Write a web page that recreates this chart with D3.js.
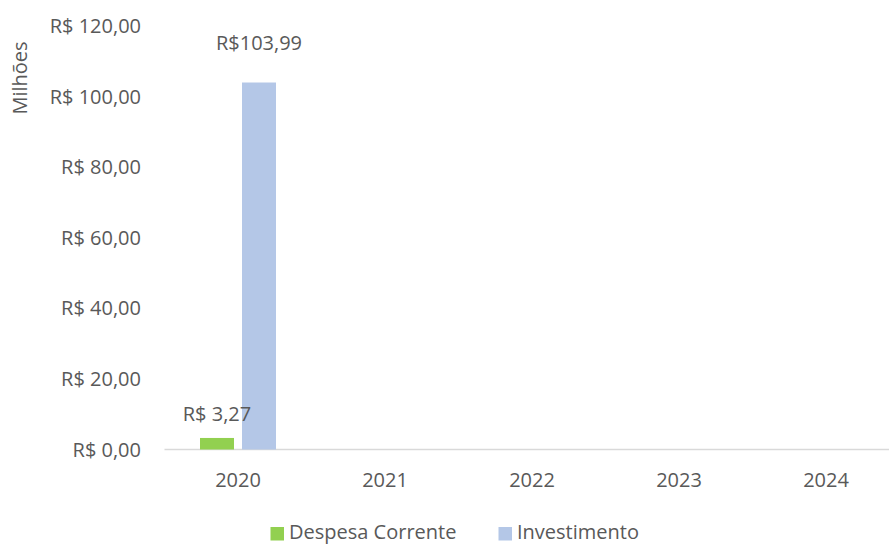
<!DOCTYPE html>
<html>
<head>
<meta charset="utf-8">
<script src="https://cdn.jsdelivr.net/npm/d3@7"></script>
<style>
  body { margin: 0; background: #fff; }
  svg { display: block; }
  text { font-family: "Open Sans", Lato, sans-serif; fill: #595959; }
</style>
</head>
<body>
<svg id="chart" width="889" height="544"></svg>
<script>
// Anos e séries (valores em milhões de R$)
const years = ["2020", "2021", "2022", "2023", "2024"];
const despesaCorrente = [3.27, 0, 0, 0, 0];
const investimento = [103.99, 0, 0, 0, 0];
const yTicks = [0, 20, 40, 60, 80, 100, 120];
const seriesNames = ["Despesa Corrente", "Investimento"];
const seriesColors = ["#92D050", "#B4C7E7"];

const fmtTick = v => "R$ " + v.toFixed(2).replace(".", ",");
const fmtLabel = [v => "R$ " + v.toFixed(2).replace(".", ","), v => "R$" + v.toFixed(2).replace(".", ",")];

const svg = d3.select("#chart");
const x = d3.scaleBand().domain(years).range([164.5, 899.5]);
const y = d3.scaleLinear().domain([0, 120]).range([449.5, 26]);

const barW = 34, gap = 8;
const fs = "20px";

// Eixo Y: apenas rótulos
svg.append("g").selectAll("text").data(yTicks).join("text")
  .attr("x", 141).attr("y", d => y(d)).attr("dy", "0.35em")
  .attr("text-anchor", "end").style("font-size", fs)
  .text(fmtTick);

svg.append("text")
  .attr("transform", "translate(20,78) rotate(-90)")
  .attr("text-anchor", "middle").attr("dy", "0.35em").style("font-size", fs)
  .text("Milhões");

// Linha base
svg.append("line")
  .attr("x1", 164.5).attr("x2", 899.5)
  .attr("y1", y(0)).attr("y2", y(0))
  .attr("stroke", "#D9D9D9").attr("stroke-width", 1.5);

// Rótulos do eixo X
svg.append("g").selectAll("text").data(years).join("text")
  .attr("x", d => x(d) + x.bandwidth() / 2).attr("y", 480).attr("dy", "0.35em")
  .attr("text-anchor", "middle").style("font-size", fs)
  .text(d => d);

// Barras
const series = [despesaCorrente, investimento];
const offsets = [-(gap / 2 + barW), gap / 2];
series.forEach((vals, i) => {
  svg.append("g").selectAll("rect").data(years.map((yr, j) => ({ yr, v: vals[j] })))
    .join("rect")
    .attr("x", d => x(d.yr) + x.bandwidth() / 2 + offsets[i])
    .attr("width", barW)
    .attr("y", d => y(d.v))
    .attr("height", d => y(0) - y(d.v))
    .attr("fill", seriesColors[i]);
});

// Rótulos de dados
const labelLift = [24, 40];
series.forEach((vals, i) => {
  svg.append("text")
    .attr("x", x(years[0]) + x.bandwidth() / 2 + offsets[i] + barW / 2)
    .attr("y", y(vals[0]) - labelLift[i]).attr("dy", "0.35em")
    .attr("text-anchor", "middle").style("font-size", fs)
    .text(fmtLabel[i](vals[0]));
});

// Legenda
const legend = svg.append("g");
const legX = [270.5, 498.5];
seriesNames.forEach((n, i) => {
  legend.append("rect").attr("x", legX[i]).attr("y", 527).attr("width", 13.5).attr("height", 13.5)
    .attr("fill", seriesColors[i]);
  legend.append("text").attr("x", legX[i] + 18.5).attr("y", 532).attr("dy", "0.35em")
    .style("font-size", fs).text(n);
});
</script>
</body>
</html>
